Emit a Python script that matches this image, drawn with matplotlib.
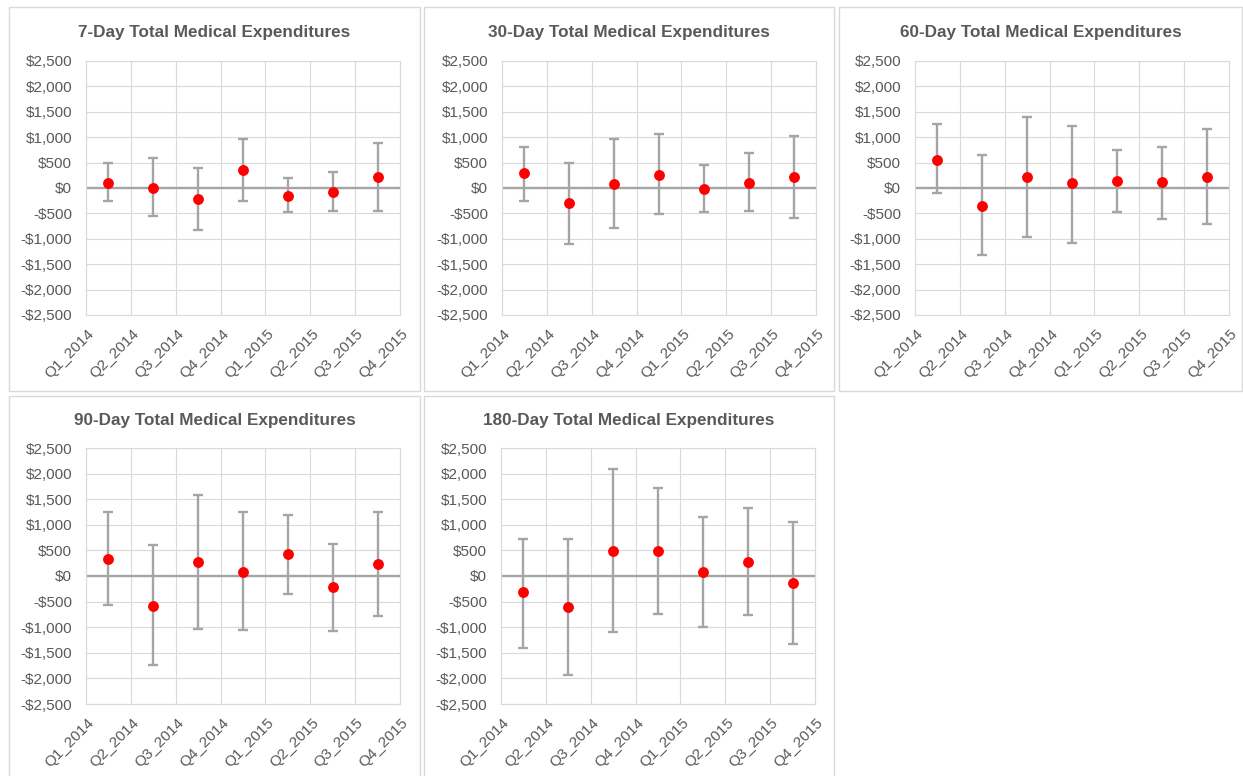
import matplotlib
matplotlib.use("Agg")
import matplotlib.pyplot as plt
from matplotlib.patches import Rectangle
from matplotlib.ticker import FuncFormatter
from matplotlib.transforms import ScaledTranslation

plt.rcParams['font.family'] = ['Liberation Sans', 'DejaVu Sans']

quarters = ["Q1_2014", "Q2_2014", "Q3_2014", "Q4_2014",
            "Q1_2015", "Q2_2015", "Q3_2015", "Q4_2015"]

titles = ["7-Day Total Medical Expenditures",
          "30-Day Total Medical Expenditures",
          "60-Day Total Medical Expenditures",
          "90-Day Total Medical Expenditures",
          "180-Day Total Medical Expenditures"]

# point estimates and confidence bounds per window
est_7 = [100, 0, -220, 360, -150, -70, 210]
upper_7 = [500, 600, 400, 960, 200, 320, 880]
lower_7 = [-250, -560, -830, -260, -480, -460, -460]

est_30 = [290, -300, 85, 260, -20, 100, 210]
upper_30 = [810, 500, 960, 1060, 450, 680, 1030]
lower_30 = [-260, -1100, -790, -520, -480, -460, -590]

est_60 = [560, -350, 210, 90, 130, 110, 210]
upper_60 = [1260, 640, 1390, 1230, 750, 810, 1160]
lower_60 = [-100, -1320, -970, -1080, -480, -610, -710]

est_90 = [340, -580, 280, 80, 430, -220, 230]
upper_90 = [1250, 600, 1580, 1250, 1200, 620, 1250]
lower_90 = [-560, -1740, -1030, -1060, -360, -1080, -780]

est_180 = [-320, -600, 480, 480, 80, 280, -130]
upper_180 = [720, 720, 2090, 1710, 1150, 1330, 1050]
lower_180 = [-1400, -1930, -1090, -740, -1000, -770, -1330]

series = [(est_7, lower_7, upper_7), (est_30, lower_30, upper_30),
          (est_60, lower_60, upper_60), (est_90, lower_90, upper_90),
          (est_180, lower_180, upper_180)]

W, H = 1243, 776
fig = plt.figure(figsize=(W / 100, H / 100), dpi=100)
fig.patch.set_facecolor("white")

TEXT = "#595959"
GRID = "#d9d9d9"
BAR = "#a5a5a5"


def px_box(x0, y0, x1, y1):
    return [x0 / W, 1 - y1 / H, (x1 - x0) / W, (y1 - y0) / H]


# chart frames (pixel boxes) and plot-area boxes
frames = [(9, 7, 420, 391), (424, 7, 834, 391), (839, 7, 1242, 391),
          (9, 396, 420, 780), (424, 396, 834, 780)]
plots = [(86, 61, 400, 315), (502, 61, 816, 315), (915, 61, 1229, 315),
         (86, 448, 400, 704), (501, 448, 815, 704)]

money = FuncFormatter(lambda v, p: ("-$" if v < 0 else "$") + f"{abs(v):,.0f}")
shift = ScaledTranslation(6 / 100, 0, fig.dpi_scale_trans)

for k in range(5):
    fx0, fy0, fx1, fy1 = frames[k]
    fig.patches.append(Rectangle((fx0 / W, 1 - fy1 / H), (fx1 - fx0) / W, (fy1 - fy0) / H,
                                 transform=fig.transFigure, fill=False,
                                 edgecolor=GRID, linewidth=1.0))
    px0, py0, px1, py1 = plots[k]
    ax = fig.add_axes(px_box(px0, py0, px1, py1))
    est, lo, hi = series[k]
    xs = [i + 0.5 for i in range(len(est))]
    ax.set_xlim(0, 7)
    ax.set_ylim(-2500, 2500)
    ax.set_xticks(range(8))
    ax.set_xticklabels(quarters, rotation=45, ha="right", va="center",
                       rotation_mode="anchor")
    ax.set_yticks(range(-2500, 2501, 500))
    ax.yaxis.set_major_formatter(money)
    ax.tick_params(length=0, labelsize=11, labelcolor=TEXT)
    ax.tick_params(axis="y", pad=10)
    ax.tick_params(axis="x", pad=12)
    for lab in ax.get_xticklabels():
        lab.set_transform(lab.get_transform() + shift)
    ax.grid(True, color=GRID, linewidth=0.8)
    ax.set_axisbelow(True)
    for s in ax.spines.values():
        s.set_color(GRID)
        s.set_linewidth(0.8)
    ax.axhline(0, color=BAR, linewidth=1.7, zorder=1.5)
    yerr = [[e - l for e, l in zip(est, lo)], [h - e for e, h in zip(est, hi)]]
    ax.errorbar(xs, est, yerr=yerr, fmt="none", ecolor=BAR, elinewidth=1.7,
                capsize=3.5, capthick=1.7, zorder=2)
    ax.plot(xs, est, "o", color="#ff0000", markersize=6.8, zorder=3)
    cx = (fx0 + fx1) / 2
    fig.text(cx / W, 1 - (fy0 + 25) / H, titles[k], ha="center", va="center",
             fontsize=12.3, fontweight="bold", color=TEXT)

fig.savefig("out.png", dpi=100, facecolor="white")
